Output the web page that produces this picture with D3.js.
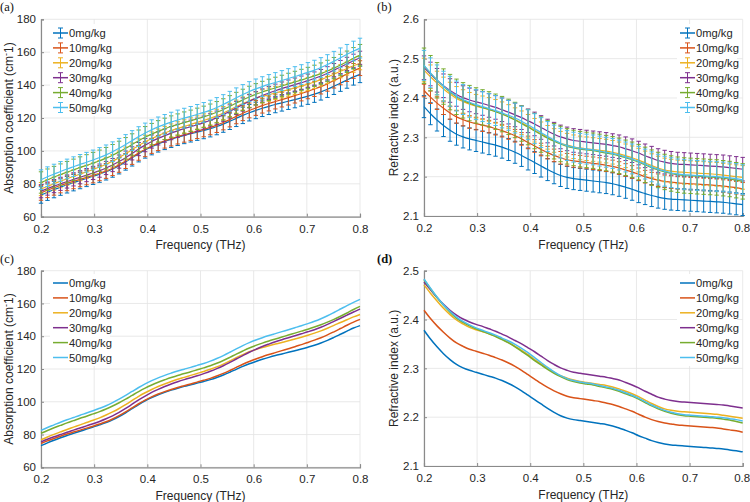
<!DOCTYPE html>
<html><head><meta charset="utf-8">
<script src="https://cdn.jsdelivr.net/npm/d3@7"></script>
<style>
body{margin:0;background:#fff;}
text{font-family:"Liberation Sans",Arial,Helvetica,sans-serif;}
</style></head>
<body><svg id="chart" width="750" height="502"></svg>
<script>
const freq = [0.2000,0.2122,0.2245,0.2367,0.2490,0.2612,0.2735,0.2857,0.2980,0.3102,
0.3224,0.3347,0.3469,0.3592,0.3714,0.3837,0.3959,0.4082,0.4204,0.4327,
0.4449,0.4571,0.4694,0.4816,0.4939,0.5061,0.5184,0.5306,0.5429,0.5551,
0.5673,0.5796,0.5918,0.6041,0.6163,0.6286,0.6408,0.6531,0.6653,0.6776,
0.6898,0.7020,0.7143,0.7265,0.7388,0.7510,0.7633,0.7755,0.7878,0.8000];

const seriesNames = ["0mg/kg","10mg/kg","20mg/kg","30mg/kg","40mg/kg","50mg/kg"];
const seriesColors = ["#0072BD","#D95319","#EDB120","#7E2F8E","#77AC30","#4DBEEE"];

// Absorption coefficient (cm^-1)
const abs0 = [73.2,74.9,76.5,78.0,79.4,80.7,82.0,83.3,84.6,85.9,87.3,89.0,91.0,93.3,95.8,98.3,100.6,102.6,104.3,105.8,107.1,108.3,109.4,110.4,111.4,112.4,113.5,114.8,116.3,118.0,119.8,121.6,123.2,124.6,125.9,127.1,128.2,129.2,130.2,131.2,132.2,133.3,134.5,135.9,137.5,139.3,141.2,143.1,145.0,146.5];
const abs10 = [74.5,76.1,77.6,79.0,80.3,81.5,82.7,83.9,85.1,86.4,87.8,89.5,91.5,93.8,96.3,98.8,101.0,103.0,104.7,106.2,107.5,108.7,109.8,110.9,112.0,113.1,114.3,115.7,117.3,119.1,121.0,122.9,124.6,126.1,127.5,128.8,130.0,131.2,132.4,133.6,134.9,136.2,137.6,139.1,140.8,142.7,144.7,146.7,148.6,150.3];
const abs20 = [76.8,78.5,80.1,81.6,83.1,84.5,85.9,87.3,88.7,90.2,91.9,93.8,95.9,98.3,100.8,103.3,105.5,107.5,109.3,110.9,112.4,113.7,114.9,116.1,117.3,118.5,119.8,121.3,123.0,124.9,126.9,128.8,130.5,131.9,133.1,134.2,135.2,136.2,137.2,138.3,139.4,140.6,141.9,143.3,144.9,146.6,148.4,150.1,151.8,153.3];
const abs30 = [75.5,77.1,78.6,80.0,81.4,82.7,84.0,85.3,86.6,88.0,89.6,91.4,93.5,95.9,98.5,101.1,103.5,105.7,107.6,109.3,110.8,112.2,113.5,114.7,115.9,117.2,118.6,120.2,122.0,124.0,126.1,128.2,130.2,132.0,133.7,135.2,136.6,137.9,139.1,140.3,141.5,142.7,144.0,145.5,147.2,149.1,151.0,152.9,154.8,156.6];
const abs40 = [80.8,82.5,84.1,85.6,87.1,88.5,89.9,91.2,92.6,94.0,95.6,97.4,99.4,101.6,103.9,106.2,108.3,110.2,111.9,113.4,114.8,116.0,117.2,118.3,119.5,120.7,122.0,123.5,125.2,127.1,129.1,131.0,132.8,134.4,135.8,137.1,138.3,139.5,140.7,141.9,143.1,144.3,145.6,147.0,148.6,150.3,152.2,154.2,156.3,158.2];
const abs50 = [82.5,84.3,85.9,87.5,89.0,90.4,91.8,93.1,94.5,96.0,97.6,99.5,101.6,103.9,106.3,108.7,110.9,112.9,114.6,116.1,117.5,118.8,119.9,121.0,122.2,123.4,124.8,126.4,128.2,130.2,132.3,134.3,136.1,137.7,139.1,140.4,141.6,142.8,144.0,145.2,146.4,147.7,149.1,150.7,152.5,154.5,156.6,158.7,160.7,162.5];
const absErr = [5.0,4.5,4.0,4.0,6.5,6.0];

// Refractive index (a.u.)
const ri0 = [2.378,2.360,2.344,2.330,2.318,2.308,2.301,2.296,2.292,2.288,2.284,2.280,2.275,2.269,2.262,2.254,2.245,2.236,2.227,2.218,2.210,2.203,2.198,2.195,2.193,2.191,2.189,2.187,2.185,2.182,2.178,2.173,2.168,2.162,2.157,2.152,2.148,2.145,2.143,2.142,2.141,2.140,2.139,2.138,2.137,2.136,2.135,2.133,2.131,2.129];
const ri10 = [2.419,2.402,2.387,2.374,2.362,2.352,2.345,2.339,2.335,2.331,2.327,2.322,2.317,2.311,2.304,2.296,2.287,2.278,2.269,2.261,2.254,2.248,2.243,2.240,2.238,2.236,2.234,2.232,2.229,2.226,2.222,2.217,2.212,2.206,2.200,2.195,2.191,2.188,2.186,2.184,2.183,2.182,2.181,2.180,2.179,2.178,2.176,2.174,2.172,2.169];
const ri20 = [2.471,2.454,2.438,2.423,2.410,2.399,2.391,2.384,2.379,2.375,2.371,2.366,2.360,2.353,2.345,2.337,2.328,2.318,2.309,2.300,2.292,2.285,2.280,2.276,2.273,2.271,2.269,2.267,2.265,2.262,2.258,2.253,2.248,2.242,2.235,2.228,2.222,2.217,2.214,2.212,2.211,2.210,2.209,2.208,2.207,2.206,2.204,2.202,2.200,2.198];
const ri30 = [2.477,2.461,2.445,2.431,2.419,2.409,2.401,2.395,2.390,2.386,2.381,2.376,2.370,2.364,2.357,2.350,2.342,2.334,2.325,2.316,2.308,2.301,2.296,2.292,2.290,2.288,2.286,2.284,2.282,2.279,2.276,2.271,2.266,2.260,2.253,2.247,2.241,2.237,2.234,2.232,2.231,2.230,2.229,2.228,2.227,2.226,2.225,2.223,2.221,2.219];
const ri40 = [2.482,2.463,2.445,2.429,2.415,2.403,2.394,2.387,2.381,2.376,2.371,2.365,2.359,2.352,2.344,2.335,2.326,2.316,2.307,2.298,2.290,2.283,2.277,2.273,2.270,2.268,2.266,2.263,2.260,2.257,2.253,2.248,2.243,2.237,2.230,2.223,2.217,2.212,2.208,2.205,2.203,2.202,2.201,2.200,2.199,2.198,2.196,2.194,2.191,2.188];
const ri50 = [2.483,2.464,2.446,2.430,2.417,2.405,2.396,2.389,2.383,2.378,2.373,2.368,2.362,2.356,2.349,2.341,2.332,2.322,2.312,2.302,2.293,2.285,2.279,2.275,2.272,2.270,2.268,2.265,2.262,2.259,2.255,2.250,2.245,2.239,2.232,2.225,2.219,2.214,2.210,2.207,2.205,2.204,2.203,2.202,2.201,2.200,2.199,2.197,2.195,2.192];
const riErr = [0.028,0.016,0.030,0.030,0.045,0.038];

const xTicks = [0.2,0.3,0.4,0.5,0.6,0.7,0.8];
const xTickLabels = ["0.2","0.3","0.4","0.5","0.6","0.7","0.8"];
const absTicks = [60,80,100,120,140,160,180];
const riTicksB = [2.1,2.2,2.3,2.4,2.5,2.6];
const riTicksD = [2.1,2.2,2.3,2.4,2.5];

const absSeries = [abs0,abs10,abs20,abs30,abs40,abs50];
const riSeries = [ri0,ri10,ri20,ri30,ri40,ri50];

const svg = d3.select("#chart");

function panel(opt){
  const g = svg.append("g");
  const x = d3.scaleLinear().domain([0.2,0.8]).range([opt.x0,opt.x1]);
  const y = d3.scaleLinear().domain(opt.yDomain).range([opt.y1,opt.y0]);
  // grid
  g.append("g").selectAll("line").data(xTicks).join("line")
    .attr("x1",d=>x(d)).attr("x2",d=>x(d)).attr("y1",opt.y0).attr("y2",opt.y1)
    .attr("stroke","#e3e3e3").attr("stroke-width",0.8);
  g.append("g").selectAll("line").data(opt.yTicks).join("line")
    .attr("x1",opt.x0).attr("x2",opt.x1).attr("y1",d=>y(d)).attr("y2",d=>y(d))
    .attr("stroke","#e3e3e3").attr("stroke-width",0.8);
  // axes
  const xa = g.append("g").attr("transform",`translate(0,${opt.y1})`)
    .call(d3.axisBottom(x).tickValues(xTicks).tickFormat((d,i)=>xTickLabels[i]).tickSize(-3).tickPadding(8));
  const ya = g.append("g").attr("transform",`translate(${opt.x0},0)`)
    .call(d3.axisLeft(y).tickValues(opt.yTicks).tickFormat(opt.fmt).tickSize(-3).tickPadding(5));
  [xa,ya].forEach(a=>{
    a.select(".domain").attr("stroke","#8a8a8a").attr("stroke-width",1.2);
    a.selectAll(".tick line").attr("stroke","#8a8a8a");
    a.selectAll(".tick text").attr("fill","#262626").style("font-size","11.5px").style("font-family","'Liberation Sans',Arial,sans-serif");
  });
  if(opt.x1 > 740){
    xa.selectAll(".tick text").filter((d,i)=>i===xTicks.length-1).attr("text-anchor","end").attr("dx","7px");
  }
  // axis titles
  g.append("text").attr("x",(opt.x0+opt.x1)/2).attr("y",opt.y1+32.5).attr("text-anchor","middle")
    .attr("fill","#262626").style("font-size","12px").text("Frequency (THz)");
  const yt = g.append("text").attr("transform",`translate(${opt.x0-opt.ylabOff},${(opt.y0+opt.y1)/2}) rotate(-90)`)
    .attr("text-anchor","middle").attr("fill","#262626").style("font-size","12px");
  if(opt.absorb){
    yt.append("tspan").text("Absorption coefficient (cm");
    yt.append("tspan").attr("dy",-4).style("font-size","9px").text("-");
    yt.append("tspan").attr("dy",4).text("1)");
  } else {
    yt.text("Refractive index (a.u.)");
  }
  // series
  const line = d3.line().x((d,i)=>x(freq[i])).y(d=>y(d)).curve(d3.curveMonotoneX);
  opt.series.forEach((vals,k)=>{
    const sg = g.append("g");
    const c = seriesColors[k];
    if(opt.err){
      const e = opt.err[k];
      sg.append("g").selectAll("path").data(vals).join("path")
        .attr("d",(d,i)=>{
          const xx = x(freq[i]), yt2 = y(d+e), yb = y(d-e);
          return `M${xx},${yt2}V${yb}M${xx-2.2},${yt2}H${xx+2.2}M${xx-2.2},${yb}H${xx+2.2}`;
        })
        .attr("stroke",c).attr("stroke-width",1).attr("fill","none");
    }
    sg.append("path").datum(vals).attr("d",line).attr("fill","none")
      .attr("stroke",c).attr("stroke-width",opt.err?1.2:1.5);
  });
  // legend
  const lg = g.append("g");
  lg.append("rect").attr("x",opt.legX-3).attr("y",opt.legY-9).attr("width",60).attr("height",92).attr("fill","#fff");
  seriesNames.forEach((nm,k)=>{
    const yy = opt.legY + k*14.9;
    const c = seriesColors[k];
    lg.append("line").attr("x1",opt.legX).attr("x2",opt.legX+15).attr("y1",yy).attr("y2",yy)
      .attr("stroke",c).attr("stroke-width",1.5);
    if(opt.err){
      const xx = opt.legX+7.5;
      lg.append("path").attr("d",`M${xx},${yy-5}V${yy+5}M${xx-2.5},${yy-5}H${xx+2.5}M${xx-2.5},${yy+5}H${xx+2.5}`)
        .attr("stroke",c).attr("stroke-width",1).attr("fill","none");
    }
    lg.append("text").attr("x",opt.legX+16).attr("y",yy+4.2).attr("fill","#262626")
      .style("font-size","11.2px").text(nm);
  });
  // panel label
  svg.append("text").attr("x",opt.labX).attr("y",opt.labY)
    .style("font-family","'Liberation Serif','Times New Roman',serif").style("font-size","12.5px")
    .style("font-weight",opt.bold?"bold":"normal").attr("fill","#111").text(opt.label);
}

panel({x0:41,x1:360,y0:19.3,y1:216.7,yDomain:[60,180],yTicks:absTicks,fmt:d3.format("d"),
  series:absSeries,err:absErr,absorb:true,ylabOff:28,legX:53,legY:33,label:"(a)",labX:0,labY:11});
panel({x0:424,x1:742.7,y0:19.3,y1:216,yDomain:[2.1,2.6],yTicks:riTicksB,fmt:d3.format(".1f"),
  series:riSeries,err:riErr,absorb:false,ylabOff:26,legX:680,legY:33,label:"(b)",labX:377,labY:11});
panel({x0:41,x1:360,y0:270.7,y1:467.3,yDomain:[60,180],yTicks:absTicks,fmt:d3.format("d"),
  series:absSeries,err:null,absorb:true,ylabOff:28,legX:53,legY:283,label:"(c)",labX:0,labY:263});
panel({x0:424,x1:742.7,y0:270.7,y1:466,yDomain:[2.1,2.5],yTicks:riTicksD,fmt:d3.format(".1f"),
  series:riSeries,err:null,absorb:false,ylabOff:26,legX:680,legY:283,label:"(d)",labX:377,labY:263,bold:true});
</script></body></html>
